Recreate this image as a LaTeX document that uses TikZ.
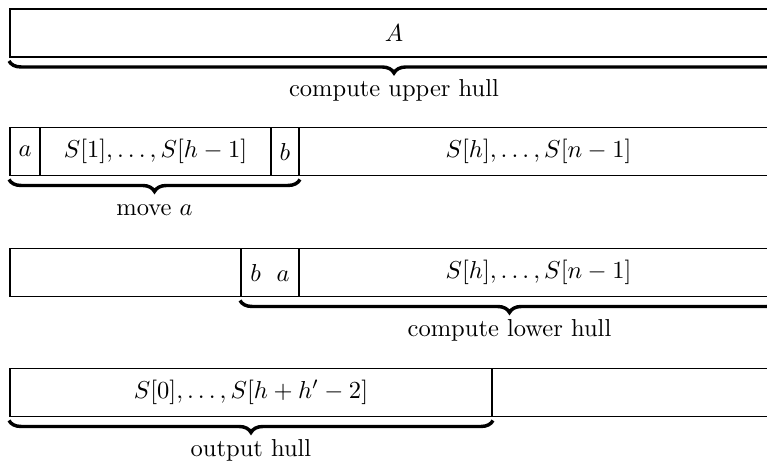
\documentclass[tikz,border=0pt]{standalone}
\usetikzlibrary{decorations.pathreplacing}
\newdimen\pxu \pxu=0.408pt
\tikzset{
  cell/.style={draw, line width=0.8pt, inner sep=0pt, minimum height=48*\pxu},
  hullbrace/.style={decorate, line width=1.4pt, decoration={brace, mirror, amplitude=12*\pxu}},
  bracelabel/.style={midway, anchor=base, yshift=-36*\pxu, inner sep=0pt}
}
\begin{document}
\begin{tikzpicture}[x=\pxu, y=-\pxu]
\useasboundingbox (0,0) rectangle (767,462);
\clip (0,0) rectangle (767,462);
% row 1
\node[cell, minimum width=768*\pxu] (A) at (394,33) {$A$};
\draw[hullbrace] ([yshift=-3*\pxu]A.south west) -- ([yshift=-3*\pxu]A.south east)
  node[bracelabel] (l1) {compute upper hull};
% row 2
\node[cell, minimum width=30*\pxu] (ra) at (25,151.5) {$a$};
\node[cell, minimum width=231*\pxu] (rs) at (155.5,151.5) {$S[1],\ldots,S[h-1]$};
\node[cell, minimum width=28*\pxu] (rb) at (285,151.5) {$b$};
\node[cell, minimum width=479*\pxu] (rr) at (538.5,151.5) {$S[h],\ldots,S[n-1]$};
\draw[hullbrace] ([yshift=-3*\pxu]ra.south west) -- ([yshift=-3*\pxu]rb.south east)
  node[bracelabel] (l2) {move $a$};
% row 3
\node[cell, minimum width=231*\pxu] (te) at (125.5,272.5) {};
\node[cell, minimum width=58*\pxu] (tba) at (270,272.5) {$b\hspace{0.65em}a$};
\node[cell, minimum width=479*\pxu] (tr) at (538.5,272.5) {$S[h],\ldots,S[n-1]$};
\draw[hullbrace] ([yshift=-3*\pxu]tba.south west) -- ([yshift=-3*\pxu]tr.south east)
  node[bracelabel] (l3) {compute lower hull};
% row 4
\node[cell, minimum width=482*\pxu] (fo) at (251,392.5) {$S[0],\ldots,S[h+h'-2]$};
\node[cell, minimum width=286*\pxu] (fr) at (635,392.5) {};
\draw[hullbrace] ([yshift=-3*\pxu]fo.south west) -- ([yshift=-3*\pxu]fo.south east)
  node[bracelabel] (l4) {output hull};
\end{tikzpicture}
\end{document}
